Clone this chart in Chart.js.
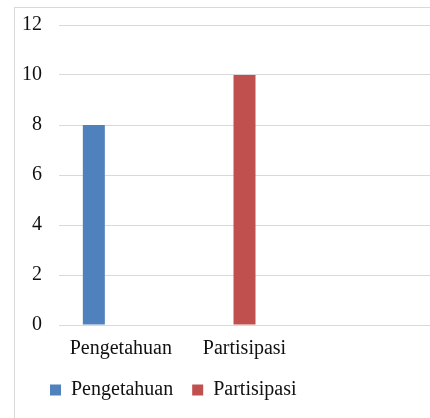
<!DOCTYPE html>
<html>
<head>
<meta charset="utf-8">
<script src="https://cdn.jsdelivr.net/npm/chart.js@4.4.1/dist/chart.umd.min.js"></script>
<style>
  html, body { margin: 0; padding: 0; background: #fff; overflow: hidden; }
  #frame {
    position: absolute; left: 14px; top: 7px; width: 500px; height: 500px;
    border-left: 1px solid #d9d9d9; border-top: 1px solid #d9d9d9;
  }
  #wrap { position: absolute; left: 0; top: 0; width: 430px; height: 418px; }
</style>
</head>
<body>
<div id="frame"></div>
<div id="wrap"><canvas id="c"></canvas></div>
<script>
// Categories (the third slot is empty in the source chart)
const categories = ['Pengetahuan', 'Partisipasi', ''];
const pengetahuan = [8, null, null];
const partisipasi = [null, 10, null];
const spare = [null, null, null];
const yTicks = [0, 2, 4, 6, 8, 10, 12];

const ink = '#111111';
const grid = '#d9d9d9';
const font = { family: "'Liberation Serif', 'Times New Roman', serif", size: 20 };

// nudge the legend to the right, like the Excel original
const legendShift = {
  id: 'legendShift',
  afterLayout(chart) {
    if (chart.legend) chart.legend.left += 11;
  },
};

new Chart(document.getElementById('c'), {
  type: 'bar',
  data: {
    labels: categories,
    datasets: [
      { label: 'Pengetahuan', data: pengetahuan, backgroundColor: '#4f81bd' },
      { label: 'Partisipasi', data: partisipasi, backgroundColor: '#c0504d' },
      { label: '', data: spare, backgroundColor: '#9bbb59' },
    ],
  },
  plugins: [legendShift],
  options: {
    responsive: true,
    maintainAspectRatio: false,
    animation: false,
    devicePixelRatio: 1,
    datasets: { bar: { categoryPercentage: 0.655, barPercentage: 0.815 } },
    layout: { padding: { left: 20, top: 25, right: 0, bottom: 8 } },
    plugins: {
      tooltip: { enabled: false },
      legend: {
        position: 'bottom',
        align: 'start',
        labels: {
          color: ink,
          font,
          boxWidth: 11,
          boxHeight: 11,
          padding: 19,
          filter: (item) => item.text !== '',
        },
      },
    },
    scales: {
      x: {
        grid: { display: false, drawTicks: false },
        border: { display: false },
        ticks: { color: ink, font, padding: 12, maxRotation: 0, autoSkip: false },
        afterFit: (axis) => { axis.height = 36; },
      },
      y: {
        min: 0,
        max: 12,
        afterBuildTicks: (axis) => { axis.ticks = yTicks.map((v) => ({ value: v })); },
        grid: { color: grid, lineWidth: 1, drawTicks: true, tickLength: 12, tickColor: 'rgba(0,0,0,0)' },
        border: { display: false },
        ticks: { color: ink, font, padding: 5 },
        afterFit: (axis) => { axis.width = 39; },
      },
    },
  },
});
</script>
</body>
</html>
